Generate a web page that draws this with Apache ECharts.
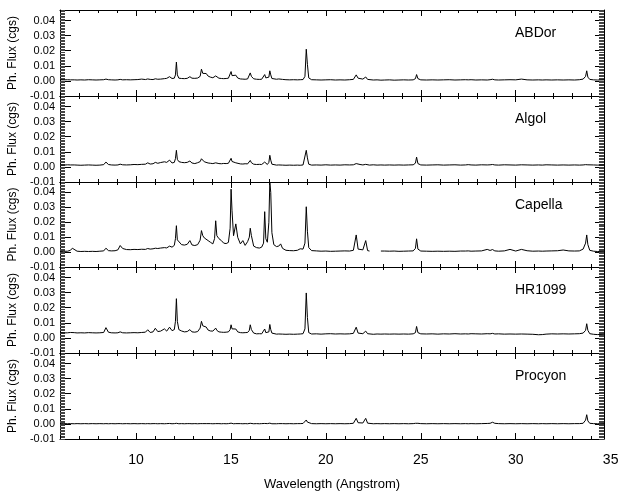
<!DOCTYPE html>
<html>
<head>
<meta charset="utf-8">
<script src="https://cdn.jsdelivr.net/npm/echarts@6/dist/echarts.min.js"></script>
<style>
  html, body { margin: 0; padding: 0; background: #fff; }
  #chart { width: 618px; height: 491px; }
</style>
</head>
<body>
<div id="chart"></div>
<script>
// X-ray line spectra of five active stars, one panel per star.
const stars = ['ABDor', 'Algol', 'Capella', 'HR1099', 'Procyon'];

// Shared wavelength grid (Angstrom)
const wavelength = [
  6.0, 6.2, 6.4, 6.55, 6.65, 6.75, 6.9, 7.1, 7.3, 7.5, 7.7, 7.9, 8.1, 8.3,
  8.42, 8.55, 8.7, 8.9, 9.05, 9.17, 9.3, 9.5, 9.7, 9.9, 10.1, 10.3, 10.5,
  10.62, 10.75, 10.9, 11.02, 11.15, 11.3, 11.5, 11.62, 11.77, 11.9, 12.02,
  12.08, 12.13, 12.18, 12.26, 12.4, 12.55, 12.7, 12.84, 12.95, 13.1, 13.25,
  13.38, 13.45, 13.52, 13.6, 13.7, 13.8, 13.92, 14.05, 14.14, 14.2, 14.26, 14.37, 14.5,
  14.62, 14.75, 14.87, 14.96, 15.01, 15.06, 15.14, 15.26, 15.36, 15.5, 15.63, 15.75, 15.88,
  15.97, 16.02, 16.08, 16.2, 16.35, 16.5, 16.62, 16.72, 16.78, 16.84, 16.92, 17.0,
  17.05, 17.1, 17.16, 17.26, 17.4, 17.52, 17.62, 17.72, 17.9, 18.1, 18.3, 18.5, 18.65, 18.8,
  18.9, 18.97, 19.03, 19.1, 19.25, 19.5, 19.75, 20.0, 20.25, 20.5, 20.75, 21.0, 21.25,
  21.45, 21.6, 21.7, 21.8, 21.95, 22.1, 22.2, 22.3, 22.5, 22.7, 22.9, 23.1,
  23.35, 23.6, 23.85, 24.1, 24.35, 24.6, 24.72, 24.78, 24.85, 25.0, 25.3, 25.6, 25.9, 26.2,
  26.5, 26.8, 27.1, 27.35, 27.5, 27.65, 27.9, 28.2, 28.5, 28.65, 28.78, 28.9, 29.1, 29.4,
  29.7, 30.0, 30.3, 30.6, 30.9, 31.2, 31.4, 31.6, 31.9, 32.2, 32.5, 32.8, 33.1,
  33.35, 33.55, 33.68, 33.74, 33.8, 33.9, 34.1, 34.3, 34.65
];

// Photon flux (cgs) per star, on the grid above
const fluxABDor = [
  .0008,.0007,.0008,.0007,.0010,.0007,.0006,.0007,.0006,.0008,.0007,.0006,.0007,.0008,
  .0012,.0008,.0007,.0006,.0007,.0010,.0007,.0008,.0007,.0008,.0009,.0012,.0009,
  .0013,.0010,.0009,.0014,.0011,.0012,.0015,.0017,.0028,.0016,.0018,
  .0040,.0125,.0040,.0018,.0016,.0015,.0017,.0028,.0018,.0017,.0019,
  .0030,.0078,.0050,.0042,.0049,.0032,.0025,.0021,.0024,.0033,.0025,.0018,.0016,
  .0015,.0016,.0018,.0030,.0062,.0035,.0024,.0038,.0019,.0013,.0012,.0011,.0013,
  .0025,.0053,.0030,.0014,.0011,.0010,.0011,.0018,.0042,.0020,.0012,.0025,
  .0067,.0040,.0016,.0010,.0011,.0013,.0020,.0010,.0008,.0007,.0008,.0007,.0008,.0009,
  .0030,.0210,.0110,.0020,.0008,.0007,.0006,.0007,.0008,.0006,.0007,.0006,.0008,
  .0010,.0040,.0018,.0025,.0012,.0026,.0010,.0007,.0006,.0007,.0005,.0006,
  .0007,.0005,.0006,.0007,.0006,.0007,.0015,.0042,.0015,.0007,.0006,.0007,.0006,.0007,
  .0008,.0006,.0007,.0008,.0007,.0008,.0006,.0007,.0006,.0008,.0011,.0007,.0006,.0007,
  .0008,.0007,.0012,.0007,.0006,.0007,.0006,.0007,.0006,.0007,.0006,.0007,.0006,
  .0008,.0012,.0030,.0067,.0025,.0010,.0007,.0006,.0007
];

const fluxAlgol = [
  .0013,.0012,.0014,.0013,.0016,.0013,.0012,.0011,.0012,.0013,.0012,.0011,.0012,.0015,
  .0032,.0016,.0013,.0012,.0013,.0018,.0014,.0013,.0014,.0016,.0015,.0017,.0018,
  .0027,.0019,.0021,.0030,.0024,.0029,.0034,.0030,.0045,.0026,.0030,
  .0055,.0110,.0050,.0035,.0030,.0028,.0030,.0039,.0026,.0022,.0028,
  .0035,.0054,.0042,.0034,.0036,.0026,.0024,.0022,.0023,.0027,.0023,.0022,.0021,
  .0023,.0022,.0024,.0035,.0057,.0036,.0030,.0027,.0022,.0020,.0019,.0021,.0020,
  .0028,.0043,.0028,.0018,.0016,.0017,.0016,.0020,.0032,.0019,.0016,.0030,
  .0077,.0045,.0018,.0013,.0012,.0013,.0016,.0012,.0011,.0012,.0011,.0012,.0011,.0013,
  .0025,.0110,.0060,.0018,.0012,.0013,.0012,.0014,.0012,.0013,.0012,.0014,.0013,
  .0014,.0022,.0014,.0016,.0013,.0017,.0013,.0012,.0014,.0012,.0013,.0012,
  .0013,.0012,.0013,.0012,.0013,.0014,.0025,.0065,.0022,.0013,.0012,.0013,.0014,.0012,
  .0013,.0014,.0012,.0013,.0015,.0013,.0012,.0014,.0013,.0014,.0016,.0013,.0012,.0014,
  .0013,.0012,.0014,.0013,.0012,.0013,.0012,.0014,.0013,.0012,.0013,.0012,.0013,
  .0012,.0013,.0015,.0017,.0014,.0012,.0013,.0012,.0013
];

// null marks the detector gap near 22.5 A
const fluxCapella = [
  .0004,.0005,.0006,.0012,.0026,.0018,.0006,.0004,.0005,.0004,.0005,.0004,.0006,.0008,
  .0026,.0010,.0008,.0009,.0015,.0044,.0024,.0017,.0016,.0018,.0017,.0019,.0018,
  .0024,.0020,.0022,.0026,.0024,.0027,.0030,.0028,.0040,.0033,.0045,
  .0090,.0177,.0082,.0070,.0050,.0047,.0052,.0077,.0048,.0044,.0050,
  .0080,.0144,.0110,.0095,.0099,.0077,.0066,.0055,.0090,.0210,.0110,.0090,.0077,
  .0060,.0057,.0065,.0160,.0422,.0277,.0110,.0189,.0099,.0055,.0077,.0045,.0070,
  .0100,.0160,.0110,.0040,.0030,.0027,.0033,.0060,.0271,.0090,.0066,.0200,
  .0470,.0400,.0130,.0050,.0037,.0040,.0055,.0025,.0012,.0010,.0009,.0012,.0022,.0020,
  .0060,.0304,.0140,.0030,.0010,.0008,.0006,.0007,.0005,.0006,.0007,.0008,.0007,
  .0012,.0115,.0020,.0022,.0015,.0077,.0010,.0007,null,null,.0007,.0007,
  .0006,.0007,.0005,.0006,.0007,.0008,.0025,.0089,.0020,.0007,.0006,.0005,.0006,.0005,
  .0006,.0005,.0007,.0007,.0008,.0006,.0007,.0008,.0018,.0011,.0017,.0008,.0006,.0008,
  .0018,.0007,.0018,.0009,.0006,.0007,.0006,.0007,.0008,.0009,.0014,.0008,.0007,
  .0008,.0020,.0060,.0115,.0050,.0012,.0006,.0004,.0005
];

const fluxHR1099 = [
  .0035,.0033,.0034,.0036,.0040,.0035,.0033,.0034,.0033,.0035,.0034,.0033,.0034,.0036,
  .0068,.0038,.0034,.0033,.0034,.0040,.0034,.0033,.0034,.0035,.0034,.0036,.0038,
  .0054,.0036,.0040,.0064,.0042,.0045,.0060,.0045,.0071,.0048,.0055,
  .0110,.0260,.0110,.0055,.0046,.0040,.0042,.0055,.0040,.0038,.0042,
  .0065,.0110,.0080,.0070,.0072,.0052,.0046,.0045,.0048,.0065,.0050,.0040,.0038,
  .0037,.0038,.0040,.0055,.0087,.0060,.0048,.0059,.0040,.0035,.0034,.0035,.0036,
  .0050,.0087,.0055,.0032,.0027,.0028,.0027,.0034,.0059,.0035,.0030,.0040,
  .0089,.0055,.0032,.0026,.0025,.0026,.0030,.0025,.0024,.0025,.0024,.0025,.0026,.0028,
  .0060,.0298,.0135,.0035,.0026,.0027,.0025,.0027,.0028,.0026,.0027,.0026,.0027,
  .0030,.0071,.0032,.0030,.0028,.0045,.0028,.0025,.0024,.0026,.0025,.0026,
  .0025,.0026,.0025,.0026,.0025,.0027,.0035,.0076,.0035,.0027,.0026,.0027,.0025,.0027,
  .0026,.0028,.0026,.0027,.0026,.0028,.0027,.0026,.0028,.0027,.0030,.0026,.0027,.0025,
  .0026,.0025,.0026,.0025,.0024,.0021,.0022,.0025,.0027,.0026,.0027,.0026,.0027,
  .0028,.0032,.0050,.0094,.0050,.0028,.0024,.0022,.0024
];

const fluxProcyon = [
  .0001,.0002,.0001,.0002,.0002,.0001,.0002,.0001,.0002,.0001,.0002,.0001,.0002,.0001,
  .0002,.0001,.0002,.0001,.0002,.0002,.0001,.0002,.0001,.0002,.0001,.0002,.0001,
  .0002,.0001,.0002,.0002,.0001,.0002,.0001,.0002,.0003,.0001,.0002,
  .0002,.0004,.0002,.0001,.0002,.0001,.0002,.0002,.0001,.0002,.0001,
  .0002,.0004,.0002,.0001,.0002,.0001,.0002,.0001,.0002,.0002,.0001,.0002,.0001,
  .0002,.0001,.0002,.0002,.0005,.0002,.0001,.0002,.0001,.0002,.0001,.0002,.0001,
  .0002,.0004,.0002,.0001,.0002,.0001,.0002,.0001,.0003,.0001,.0002,.0002,
  .0005,.0003,.0001,.0002,.0001,.0002,.0001,.0002,.0001,.0002,.0001,.0002,.0002,.0003,
  .0008,.0026,.0012,.0003,.0002,.0001,.0002,.0001,.0002,.0001,.0002,.0001,.0002,
  .0004,.0037,.0008,.0012,.0006,.0037,.0005,.0002,.0001,.0002,.0001,.0002,
  .0001,.0002,.0001,.0002,.0001,.0002,.0004,.0011,.0004,.0002,.0001,.0002,.0001,.0002,
  .0001,.0002,.0001,.0002,.0001,.0002,.0001,.0002,.0003,.0004,.0011,.0004,.0002,.0001,
  .0002,.0001,.0002,.0001,.0002,.0001,.0002,.0001,.0002,.0001,.0002,.0001,.0002,
  .0002,.0004,.0025,.0061,.0020,.0004,.0002,.0001,.0002
];

const fluxByStar = [fluxABDor, fluxAlgol, fluxCapella, fluxHR1099, fluxProcyon];

// Axis ranges and labelled ticks
const waveRange = [6, 34.65];
const fluxRange = [-0.01, 0.047];
const waveTicks = [10, 15, 20, 25, 30, 35];
const fluxTicks = [-0.01, 0, 0.01, 0.02, 0.03, 0.04];

const FONT = '"Liberation Sans", Arial, Helvetica, sans-serif';
const INK = '#000';
const panelTop = [10, 96, 182, 267, 353];
const panelHeight = [86, 86, 85, 86, 86];
const last = stars.length - 1;
const inRangeTicks = waveTicks.filter(v => v >= waveRange[0] && v <= waveRange[1]);
const outRangeTicks = waveTicks.filter(v => v > waveRange[1]);

const grid = stars.map((s, i) => ({
  left: 60, right: 14, top: panelTop[i], height: panelHeight[i],
  containLabel: false, outerBoundsMode: 'none', show: false
}));

// Each panel gets four wavelength axes: 1 A ticks and 5 A ticks, on bottom and top.
function waveAxis(i, position, major) {
  const labelled = major && position === 'bottom' && i === last;
  const axis = {
    type: 'value', gridIndex: i, position,
    min: waveRange[0], max: waveRange[1], interval: 1,
    axisLine: { show: !major, onZero: false, lineStyle: { color: INK, width: 1 } },
    axisTick: major
      ? { show: true, inside: true, length: 6, customValues: inRangeTicks, lineStyle: { color: INK, width: 1 } }
      : { show: true, inside: true, length: 3, lineStyle: { color: INK, width: 1 } },
    axisLabel: labelled
      ? { show: true, customValues: inRangeTicks, margin: 14, fontSize: 14, color: INK, fontFamily: FONT }
      : { show: false },
    splitLine: { show: false }
  };
  if (labelled) {
    Object.assign(axis, {
      name: 'Wavelength (Angstrom)', nameLocation: 'middle', nameGap: 39,
      nameTextStyle: { fontSize: 13, color: INK, fontFamily: FONT }
    });
  }
  return axis;
}

// Flux axes: 0.01 ticks (labelled on the left) plus dense 0.001 ticks, on both sides.
function fluxAxis(i, position, fine) {
  const labelled = position === 'left' && !fine;
  const axis = {
    type: 'value', gridIndex: i, position,
    min: fluxRange[0], max: fluxRange[1], interval: fine ? 0.001 : 0.01,
    axisLine: { show: !fine, onZero: false, lineStyle: { color: INK, width: 1 } },
    axisTick: { show: true, inside: true,
                length: fine ? 5 : (position === 'left' ? 11 : 9),
                lineStyle: { color: fine ? '#444' : INK, width: 1 } },
    axisLabel: labelled
      ? { show: true, customValues: fluxTicks, formatter: v => v.toFixed(2), margin: 5,
          fontSize: 11, color: INK, fontFamily: FONT }
      : { show: false },
    splitLine: { show: false }
  };
  if (labelled) {
    Object.assign(axis, {
      name: 'Ph. Flux (cgs)', nameLocation: 'middle', nameRotate: 90, nameGap: 31,
      nameTextStyle: { fontSize: 12, color: INK, fontFamily: FONT }
    });
  }
  return axis;
}

const xAxis = [];
const yAxis = [];
stars.forEach((s, i) => {
  xAxis.push(waveAxis(i, 'bottom', false), waveAxis(i, 'top', false),
             waveAxis(i, 'bottom', true), waveAxis(i, 'top', true));
  yAxis.push(fluxAxis(i, 'left', false), fluxAxis(i, 'right', false),
             fluxAxis(i, 'left', true), fluxAxis(i, 'right', true));
});

const series = stars.map((s, i) => ({
  name: s, type: 'line', xAxisIndex: i * 4, yAxisIndex: i * 4,
  data: wavelength.map((w, j) => [w, fluxByStar[i][j]]),
  showSymbol: false, symbol: 'none', connectNulls: false,
  lineStyle: { color: INK, width: 1 }, itemStyle: { color: INK },
  silent: true, clip: true, z: 3
}));

const title = stars.map((s, i) => ({
  text: s, left: 515, top: panelTop[i] + 16, padding: 0,
  textStyle: { fontSize: 14, fontWeight: 'normal', color: INK, fontFamily: FONT }
}));

// The last labelled wavelength sits just past the right edge of the box;
// it is placed through the bottom panel's own axis scale once the chart is laid out.
const chart = echarts.init(document.getElementById('chart'), null, { renderer: 'canvas' });
chart.setOption({
  backgroundColor: '#fff',
  animation: false,
  title, grid, xAxis, yAxis, series
});

const labelAxis = last * 4 + 2;
const labelY = chart.convertToPixel({ yAxisIndex: last * 4 }, fluxRange[0]) + 14;
chart.setOption({
  graphic: outRangeTicks.map(v => ({
    type: 'text',
    x: chart.convertToPixel({ xAxisIndex: labelAxis }, v),
    y: labelY,
    style: { text: String(v), fontSize: 14, fontFamily: FONT, fill: INK,
             align: 'center', verticalAlign: 'top' }
  }))
});
</script>
</body>
</html>
